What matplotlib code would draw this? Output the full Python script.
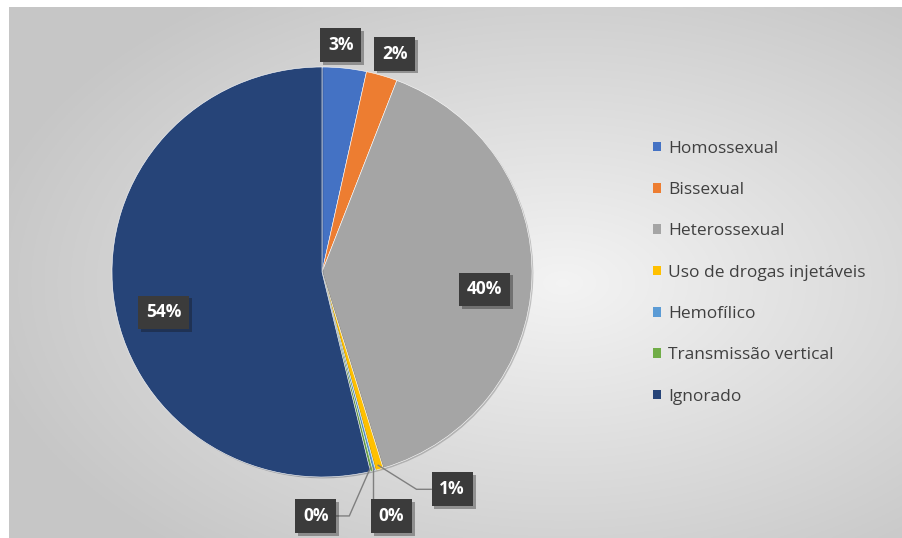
import numpy as np
import matplotlib.pyplot as plt
from matplotlib.patches import Patch
from matplotlib import patheffects as pe

plt.rcParams['font.family'] = ['Open Sans', 'DejaVu Sans']

# dados (percentuais)
categorias = ['Homossexual', 'Bissexual', 'Heterossexual', 'Uso de drogas injetáveis',
              'Hemofílico', 'Transmissão vertical', 'Ignorado']
valores = [3.4, 2.4, 39.5, 0.6, 0.2, 0.2, 53.7]
cores = ['#4472C4', '#ED7D31', '#A5A5A5', '#FFC000', '#5B9BD5', '#70AD47', '#264478']

W, H = 903, 538
fig = plt.figure(figsize=(W / 100, H / 100), dpi=100)

# fundo com gradiente radial
bg = fig.add_axes([9 / W, 0, 1 - 9 / W, (H - 7) / H])
yy, xx = np.mgrid[0:1:300j, 0:1:500j]
d = np.sqrt(((xx - 0.62) / 0.75) ** 2 + ((yy - 0.48) / 0.75) ** 2)
g = np.clip(0.955 - 0.2 * d, 0.78, 1)
bg.imshow(np.dstack([g, g, g]), extent=[0, 1, 0, 1], aspect='auto', origin='lower')
bg.set_axis_off()

# pizza
cx, cy, rx, ry = 322, 272, 210, 205
ax = fig.add_axes([(cx - rx) / W, (H - cy - ry) / H, 2 * rx / W, 2 * ry / H])
wedges, _ = ax.pie(valores, colors=cores, startangle=90, counterclock=False,
                   radius=1, wedgeprops=dict(linewidth=0.4, edgecolor='white'))
ax.set_aspect('auto')
ax.set_xlim(-1, 1)
ax.set_ylim(-1, 1)
ax.set_axis_off()
for w in wedges:
    w.set_path_effects([pe.withSimplePatchShadow(offset=(1, -1), alpha=0.25)])

rotulos = ['%d%%' % round(v) for v in valores]
box = dict(boxstyle='square,pad=0.45', facecolor='#3b3b3b', edgecolor='none')

def rot(t):
    t.get_bbox_patch().set_path_effects([pe.withSimplePatchShadow(offset=(2, -2), alpha=0.35)])

acum = np.cumsum([0] + valores)
meio = (acum[:-1] + acum[1:]) / 2
# raio e deslocamento angular de cada rótulo
pos_rot = [(1.11, -1.5), (1.12, 1.5), (0.78, 4.3), (0.78, -8.0)]
idx_grandes = [0, 1, 2, 6]
for i, (r, da) in zip(idx_grandes, pos_rot):
    a = np.deg2rad(90 - (meio[i] / 100 * 360 + da))
    t = ax.text(r * np.cos(a), r * np.sin(a), rotulos[i], color='white', fontsize=12.5,
                fontweight='bold', ha='center', va='center', bbox=box, zorder=5,
                clip_on=False)
    rot(t)

# rótulos pequenos com linhas de chamada
dest = {3: (0.62, -1.06), 4: (0.33, -1.19), 5: (-0.03, -1.19)}
for i, (tx, ty) in dest.items():
    a = np.deg2rad(90 - meio[i] / 100 * 360)
    px, py = 0.98 * np.cos(a), 0.98 * np.sin(a)
    if i == 3:
        ax.plot([px, 0.45, 0.52], [py, -1.06, -1.06], color='#7f7f7f', lw=1, zorder=4,
                clip_on=False)
    elif i == 4:
        ax.plot([px, px], [py, -1.12], color='#7f7f7f', lw=1, zorder=4, clip_on=False)
    else:
        ax.plot([px, 0.13, 0.07], [py, -1.19, -1.19], color='#7f7f7f', lw=1, zorder=4,
                clip_on=False)
    t = ax.text(tx, ty, rotulos[i], color='white', fontsize=12.5, fontweight='bold',
                ha='center', va='center', bbox=box, zorder=5, clip_on=False)
    rot(t)

# legenda
handles = [Patch(facecolor=c, edgecolor='none') for c in cores]
fig.legend(handles, categorias, loc='upper left', bbox_to_anchor=(637 / W, 1 - 125 / H),
           frameon=False, fontsize=12.5, labelcolor='#404040', handlelength=0.5,
           handleheight=0.5, handletextpad=0.4, labelspacing=1.46)

fig.savefig('out.png', dpi=100)
